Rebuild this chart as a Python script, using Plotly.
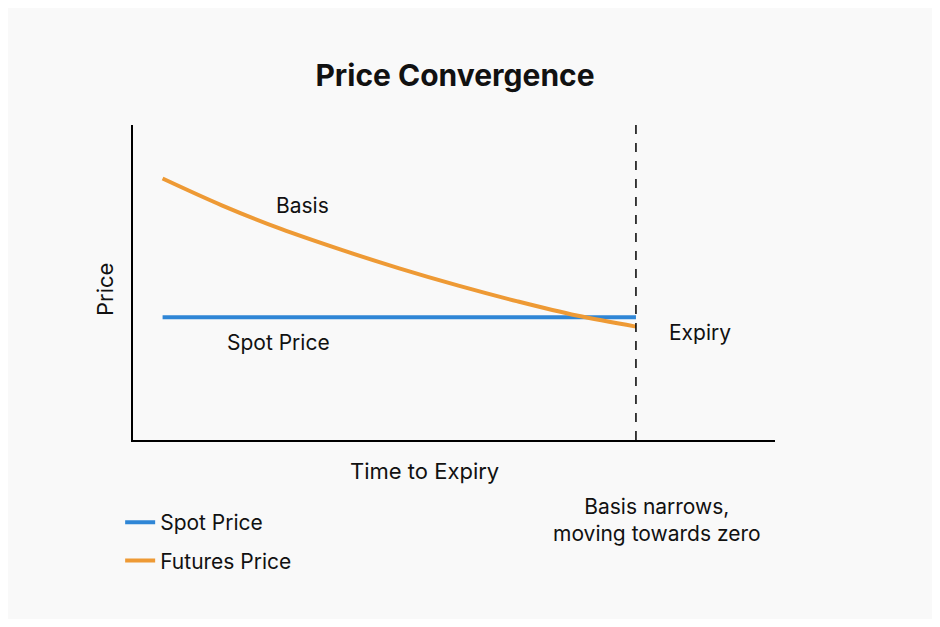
import plotly.graph_objects as go

time = [0, 1, 2, 3, 4, 5, 6, 7, 8]
spot = [39, 39, 39, 39, 39, 39, 39, 39, 39]
futures = [83, 74.5, 67, 60.5, 54.5, 49, 44, 39.5, 36]
expiry = 8

# page body adds an 8px margin, so work in shifted pixel coords
OFF = 8
W, H = 940 - 2 * OFF, 627 - 2 * OFF
L, R, T, B = 133 - OFF, 775 - OFF, 125 - OFF, 440 - OFF


def px(x):
    return (x - OFF - L) / (R - L)


def py(y):
    return (B - (y - OFF)) / (B - T)


fig = go.Figure()
fig.add_trace(go.Scatter(x=time, y=spot, mode="lines", name="Spot Price", legendgroup="s",
                         line=dict(color="#2f86d6", width=4)))
fig.add_trace(go.Scatter(x=time, y=futures, mode="lines", name="Futures Price", legendgroup="f",
                         line=dict(color="#ee9a35", width=4, shape="spline")))

fig.add_shape(type="line", x0=expiry, x1=expiry, y0=0, y1=1, yref="paper",
              line=dict(color="black", width=1.5, dash="dash"))

font = dict(family="Inter, Roboto, sans-serif", color="#111", size=21)
notes = [
    ("Basis", 302, 205, 21),
    ("Spot Price", 278, 342, 21),
    ("Expiry", 700, 332, 21),
    ("Time to Expiry", 424, 471, 22),
    ("Basis narrows,<br>moving towards zero", 657, 520, 21),
]
for text, x, y, s in notes:
    fig.add_annotation(text=text, x=px(x), y=py(y), xref="paper", yref="paper",
                       xanchor="center", yanchor="middle",
                       showarrow=False, font=dict(font, size=s))
fig.add_annotation(text="Price", x=px(105), y=py(290), xref="paper", yref="paper",
                   xanchor="center", yanchor="middle",
                   showarrow=False, textangle=-90, font=dict(font, size=22))

fig.update_layout(
    width=W, height=H,
    margin=dict(l=L, r=W - R, t=T, b=H - B),
    paper_bgcolor="#f9f9f9", plot_bgcolor="#f9f9f9",
    title=dict(text="<b>Price Convergence</b>", x=px(455), xref="paper",
               y=1 - (75 - OFF) / H, yanchor="middle", xanchor="center",
               font=dict(family="Inter, Roboto, sans-serif", size=30, color="#111")),
    font=font,
    legend=dict(x=-0.02, y=py(502), yanchor="top", xanchor="left",
                font=dict(font, size=21), tracegroupgap=8, bgcolor="rgba(0,0,0,0)"),
    xaxis=dict(range=[-0.5, 10.35], showgrid=False, zeroline=False, showticklabels=False,
               showline=True, linecolor="black", linewidth=2),
    yaxis=dict(range=[0, 100], showgrid=False, zeroline=False, showticklabels=False,
               showline=True, linecolor="black", linewidth=2),
)

fig.write_html("out.html")
